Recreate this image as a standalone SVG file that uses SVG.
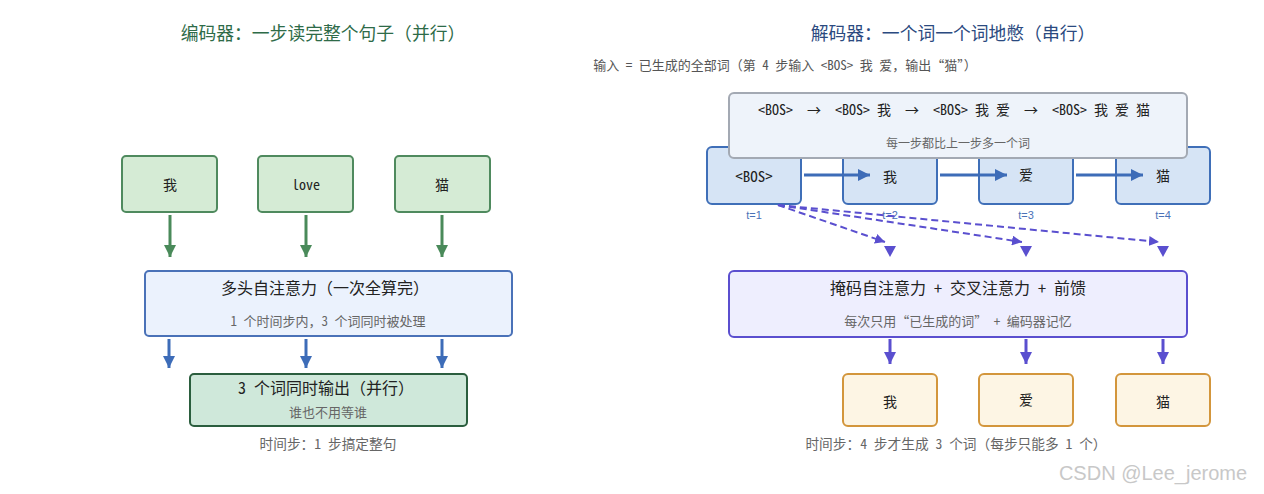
<svg xmlns="http://www.w3.org/2000/svg" width="1264" height="494" viewBox="0 0 1264 494">
<style>
text{font-family:"Noto Sans Mono CJK SC","DejaVu Sans Mono","Noto Sans CJK SC",monospace;text-anchor:middle;dominant-baseline:central;white-space:pre}
.cjk{font-family:"Noto Sans CJK SC","Noto Sans",sans-serif}
.title{font-size:17.8px}
.h{font-size:16px;fill:#222}
.sub{font-size:13px;fill:#666}
.cap{font-size:13.7px;fill:#666}
.tok{font-size:14px;fill:#222}
.tl{font-family:"Liberation Sans",sans-serif;font-size:11px;fill:#4a72b8}
.enc-in{fill:#d5ebd5;stroke:#4f8a5e;stroke-width:2}
.dec-in{fill:#d6e4f5;stroke:#3f6fb8;stroke-width:2}
.dec-out{fill:#fdf5e4;stroke:#d3963c;stroke-width:2}
</style>
<defs>
<marker id="ag" viewBox="0 0 10 10" refX="5" refY="10" markerWidth="4" markerHeight="4" markerUnits="strokeWidth"><path d="M0,0 L10,0 L5,10 z" fill="#4a8a5a"/></marker>
<marker id="ab" viewBox="0 0 10 10" refX="5" refY="10" markerWidth="4" markerHeight="4" markerUnits="strokeWidth"><path d="M0,0 L10,0 L5,10 z" fill="#3d6cb8"/></marker>
<marker id="abr" viewBox="0 0 10 10" refX="10" refY="5" markerWidth="4" markerHeight="4" orient="auto" markerUnits="strokeWidth"><path d="M0,0 L10,5 L0,10 z" fill="#3d6cb8"/></marker>
<marker id="ap" viewBox="0 0 10 10" refX="5" refY="10" markerWidth="4" markerHeight="4" markerUnits="strokeWidth"><path d="M0,0 L10,0 L5,10 z" fill="#5a4fcf"/></marker>
<marker id="apd" viewBox="0 0 10 10" refX="10" refY="5" markerWidth="5" markerHeight="5" orient="auto" markerUnits="strokeWidth"><path d="M0,0 L10,5 L0,10 z" fill="#5a4fcf"/></marker>
</defs>

<text class="title cjk" x="323" y="32" fill="#2e6b48">编码器：一步读完整个句子（并行）</text>
<text class="title cjk" x="953" y="32" fill="#2b4a80">解码器：一个词一个词地憋（串行）</text>
<text x="785" y="64" style="font-size:13px;fill:#555">输入 = 已生成的全部词（第 4 步输入 &lt;BOS&gt; 我 爱，输出<tspan class="cjk">“</tspan>猫<tspan class="cjk">”</tspan>）</text>

<g id="enc-w1"><rect class="enc-in" x="122" y="156" width="95" height="56" rx="4"/><text class="tok" x="170" y="184">我</text></g>
<g id="enc-w2"><rect class="enc-in" x="258" y="156" width="95" height="56" rx="4"/><text class="tok" x="306" y="184">love</text></g>
<g id="enc-w3"><rect class="enc-in" x="395" y="156" width="95" height="56" rx="4"/><text class="tok" x="442" y="184">猫</text></g>

<g id="enc-attn"><rect x="145" y="271" width="367" height="65" rx="4" fill="#ebf2fd" stroke="#4a72b8" stroke-width="2"/>
<text class="h" x="325" y="287">多头自注意力（一次全算完）</text>
<text class="sub" x="328" y="320">1 个时间步内，3 个词同时被处理</text></g>

<g id="enc-out"><rect x="190" y="374" width="277" height="52" rx="4" fill="#cfe8da" stroke="#2b5e3e" stroke-width="2"/>
<text class="h" x="326" y="387">3 个词同时输出（并行）</text>
<text class="sub" x="328" y="411">谁也不用等谁</text></g>
<text class="cap" x="328" y="443">时间步：1 步搞定整句</text>

<g id="dec-w1"><rect class="dec-in" x="707" y="147" width="94" height="57" rx="5"/><text class="tok" x="754" y="175" style="font-size:15px">&lt;BOS&gt;</text></g>
<g id="dec-w2"><rect class="dec-in" x="843" y="147" width="94" height="57" rx="5"/><text class="tok" x="890" y="176">我</text></g>
<g id="dec-w3"><rect class="dec-in" x="979" y="147" width="94" height="57" rx="5"/><text class="tok" x="1026" y="174">爱</text></g>
<g id="dec-w4"><rect class="dec-in" x="1116" y="147" width="94" height="57" rx="5"/><text class="tok" x="1163" y="175">猫</text></g>
<text class="tl" x="754" y="215">t=1</text>
<text class="tl" x="890" y="215">t=2</text>
<text class="tl" x="1026" y="215">t=3</text>
<text class="tl" x="1163" y="215">t=4</text>

<g id="dec-seq"><rect x="729" y="93" width="458" height="65" rx="5" fill="#eef3fa" stroke="#a3a9b3" stroke-width="2"/>
<text x="954" y="109" style="font-size:14px;fill:#222">&lt;BOS&gt;  →  &lt;BOS&gt; 我  →  &lt;BOS&gt; 我 爱  →  &lt;BOS&gt; 我 爱 猫</text>
<text class="sub" x="958" y="142" style="font-size:12px">每一步都比上一步多一个词</text></g>

<g id="dec-attn"><rect x="729" y="271" width="458" height="66" rx="5" fill="#eeeefe" stroke="#5b4fcf" stroke-width="2"/>
<text class="h" x="958" y="287">掩码自注意力 + 交叉注意力 + 前馈</text>
<text class="sub" x="958" y="320">每次只用<tspan class="cjk">“</tspan>已生成的词<tspan class="cjk">”</tspan> + 编码器记忆</text></g>

<g id="dec-o1"><rect class="dec-out" x="843" y="374" width="94" height="52" rx="5"/><text class="tok" x="890" y="401">我</text></g>
<g id="dec-o2"><rect class="dec-out" x="979" y="374" width="94" height="52" rx="5"/><text class="tok" x="1026" y="399">爱</text></g>
<g id="dec-o3"><rect class="dec-out" x="1116" y="374" width="94" height="52" rx="5"/><text class="tok" x="1163" y="401">猫</text></g>
<text class="cap" x="956" y="443">时间步：4 步才生成 3 个词（每步只能多 1 个）</text>

<g id="connectors" fill="none">
<g stroke="#4a8a5a" stroke-width="3">
<line x1="170" y1="215" x2="170" y2="257" marker-end="url(#ag)"/>
<line x1="306" y1="215" x2="306" y2="257" marker-end="url(#ag)"/>
<line x1="442" y1="215" x2="442" y2="257" marker-end="url(#ag)"/>
</g>
<g stroke="#3d6cb8" stroke-width="3">
<line x1="169" y1="339" x2="169" y2="368" marker-end="url(#ab)"/>
<line x1="306" y1="339" x2="306" y2="368" marker-end="url(#ab)"/>
<line x1="442" y1="339" x2="442" y2="368" marker-end="url(#ab)"/>
<line x1="804" y1="175" x2="870" y2="175" marker-end="url(#abr)"/>
<line x1="940" y1="175" x2="1007" y2="175" marker-end="url(#abr)"/>
<line x1="1076" y1="175" x2="1143" y2="175" marker-end="url(#abr)"/>
</g>
<g stroke="#5a4fcf" stroke-width="2" stroke-dasharray="7,4">
<line x1="778" y1="205" x2="885" y2="242" marker-end="url(#apd)"/>
<line x1="778" y1="205" x2="1022" y2="242" marker-end="url(#apd)"/>
<line x1="778" y1="205" x2="1159" y2="242" marker-end="url(#apd)"/>
</g>
<g fill="#5a4fcf">
<path d="M884,246 L896,246 L890,257 z"/>
<path d="M1020,246 L1032,246 L1026,257 z"/>
<path d="M1157,246 L1169,246 L1163,257 z"/>
</g>
<g stroke="#5a4fcf" stroke-width="3">
<line x1="890" y1="339" x2="890" y2="364" marker-end="url(#ap)"/>
<line x1="1026" y1="339" x2="1026" y2="364" marker-end="url(#ap)"/>
<line x1="1163" y1="339" x2="1163" y2="364" marker-end="url(#ap)"/>
</g>
</g>

<text x="1153" y="473" style="font-family:'Liberation Sans',sans-serif;font-size:20px;fill:#c8c8c8">CSDN @Lee_jerome</text>
</svg>
